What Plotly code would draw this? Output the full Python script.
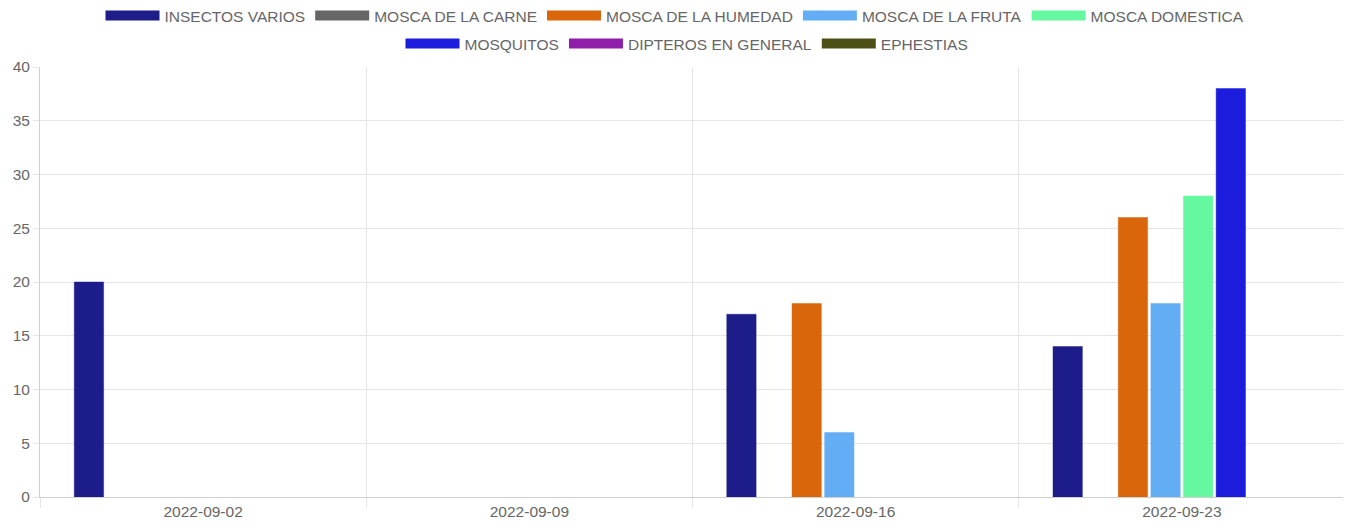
import plotly.graph_objects as go

dates = ["2022-09-02", "2022-09-09", "2022-09-16", "2022-09-23"]
series_names = ["INSECTOS VARIOS", "MOSCA DE LA CARNE", "MOSCA DE LA HUMEDAD", "MOSCA DE LA FRUTA",
                "MOSCA DOMESTICA", "MOSQUITOS", "DIPTEROS EN GENERAL", "EPHESTIAS"]
insectos_varios = [20, 0, 17, 14]
mosca_carne = [0, 0, 0, 0]
mosca_humedad = [0, 0, 18, 26]
mosca_fruta = [0, 0, 6, 18]
mosca_domestica = [0, 0, 0, 28]
mosquitos = [0, 0, 0, 38]
dipteros = [0, 0, 0, 0]
ephestias = [0, 0, 0, 0]
values = [insectos_varios, mosca_carne, mosca_humedad, mosca_fruta,
          mosca_domestica, mosquitos, dipteros, ephestias]
colors = [(28, 28, 138), (102, 102, 102), (218, 102, 11), (99, 173, 245),
          (102, 248, 160), (28, 28, 220), (143, 30, 168), (77, 80, 22)]

FS = 15.5
W, H = 1343, 521  # page body has an 8px default margin
fig = go.Figure()
for name, vals, c in zip(series_names, values, colors):
    rgb = "rgb(%d,%d,%d)" % c
    light = "rgba(%d,%d,%d,0.45)" % c
    fig.add_trace(go.Bar(
        x=dates, y=[v if v else None for v in vals], name=name,
        marker=dict(color=rgb, line=dict(color=light, width=1)),
        showlegend=False, legendgroup=name,
    ))
for i, (name, c) in enumerate(zip(series_names, colors)):
    rgb = "rgb(%d,%d,%d)" % c
    fig.add_trace(go.Scatter(
        x=[None], y=[None], mode="lines", name=name, legendgroup=name,
        line=dict(color=rgb, width=16), showlegend=True,
        legend="legend" if i < 5 else "legend2",
    ))

leg_common = dict(orientation="h", xanchor="center", yref="container", xref="container",
                  yanchor="middle", font=dict(size=FS, color="#666666"),
                  traceorder="normal", itemwidth=54, bgcolor="rgba(0,0,0,0)")
fig.update_layout(
    width=W, height=H,
    margin=dict(l=32, r=6, t=59, b=32, autoexpand=False),
    paper_bgcolor="white", plot_bgcolor="white",
    barmode="group", bargap=0.2, bargroupgap=0.1,
    font=dict(family="Liberation Sans, Arial, sans-serif", color="#666666", size=FS),
    legend=dict(leg_common, x=(675 - 8) / W, y=1 - 8 / H),
    legend2=dict(leg_common, x=(687 - 8) / W, y=1 - 36 / H),
    showlegend=True,
)
fig.update_xaxes(
    type="category", tickson="boundaries", showgrid=True, gridcolor="#e5e5e5", gridwidth=1,
    ticks="outside", ticklen=10, tickcolor="#e5e5e5", showline=True, linecolor="#d0d0d0",
    tickfont=dict(size=FS, color="#666666"),
)
fig.update_yaxes(
    range=[0, 40], dtick=5, showgrid=True, gridcolor="#e5e5e5", gridwidth=1,
    ticks="outside", ticklen=6, tickcolor="#e5e5e5", showline=True, linecolor="#d0d0d0",
    tickfont=dict(size=FS, color="#666666"), zeroline=False,
)
fig.write_html("out.html")
